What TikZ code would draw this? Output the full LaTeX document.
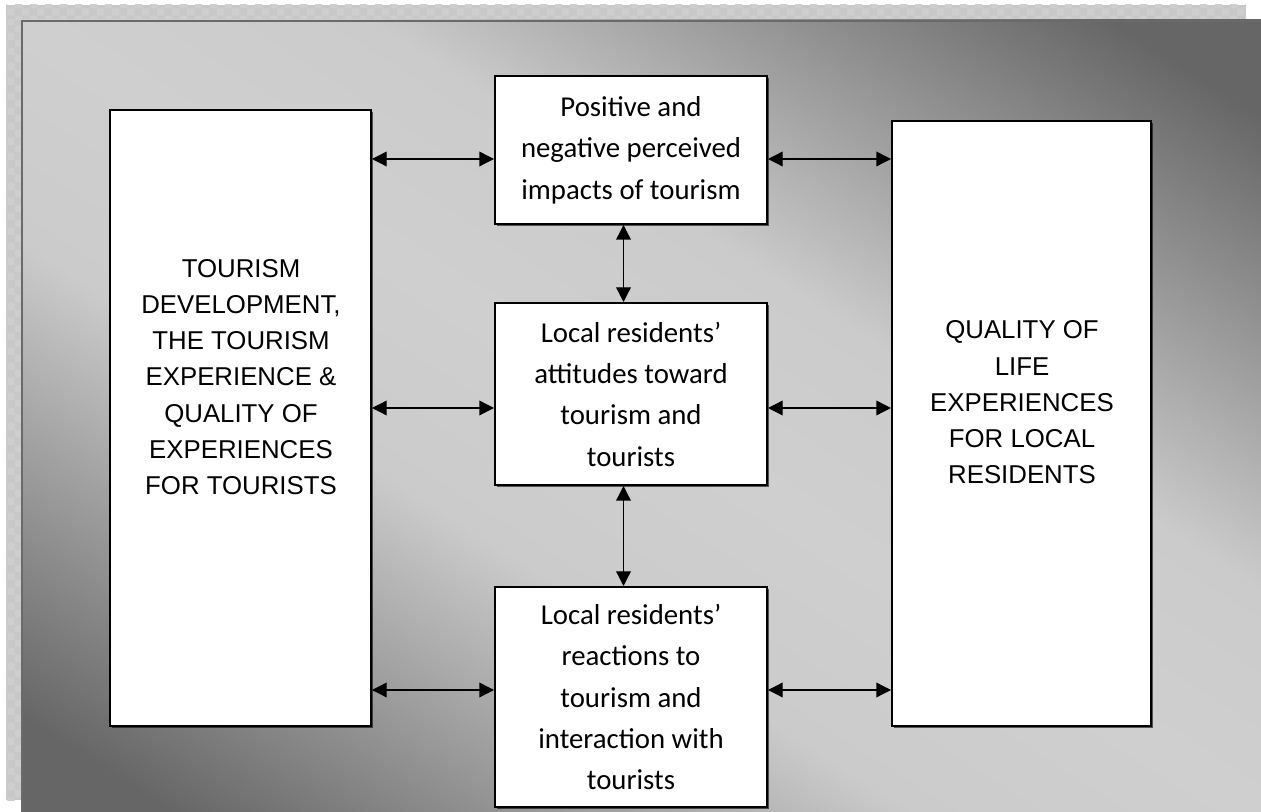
\documentclass[tikz,border=0pt]{standalone}
\usepackage{fontspec}
\setmainfont{Liberation Sans}
\newfontfamily\calibrifont{Carlito}
\usetikzlibrary{arrows.meta,patterns,shadows}
\definecolor{paneldark}{HTML}{666666}
\definecolor{panellight}{HTML}{CFCFCF}
\definecolor{panelmid}{HTML}{CBCBCB}
\definecolor{hatchbase}{HTML}{C8C8C8}
\definecolor{hatchdots}{HTML}{CECECE}
\definecolor{paneledge}{HTML}{6A6A6A}
% dark - light - dark band used for the backdrop
\pgfdeclareverticalshading{panelshade}{100bp}{color(0bp)=(paneldark); color(28bp)=(paneldark); color(43bp)=(panelmid); color(50bp)=(panellight); color(57bp)=(panelmid); color(72bp)=(paneldark); color(100bp)=(paneldark)}
\begin{document}
\begin{tikzpicture}[x=0.75pt,y=-0.75pt,
  box/.style={draw=black, line width=1.5pt, fill=white, inner sep=0pt,
    drop shadow={shadow xshift=1.2pt, shadow yshift=-1.2pt, opacity=0.6, fill=black}},
  capstext/.style={align=center, inner sep=0pt,
    font=\fontsize{19.35}{27.2}\selectfont},
  midbox/.style={box, minimum width=204pt, align=center,
    font=\calibrifont\fontsize{21.6}{31}\selectfont},
  biarrow/.style={line width=1pt,
    {Triangle[length=11pt,width=11pt]}-{Triangle[length=11pt,width=11pt]}}
]
\useasboundingbox (0,0) rectangle (1261,812);

% checkered frame behind the panel
\fill[hatchbase] (6,5) rectangle (1246,20);
\fill[hatchbase] (6,5) rectangle (21,800);
\fill[pattern=checkerboard, pattern color=hatchdots] (6,5) rectangle (1246,20);
\fill[pattern=checkerboard, pattern color=hatchdots] (6,20) rectangle (21,800);

% shaded panel
\begin{scope}
  \clip (21,20) rectangle (1261,812);
  \shade[shading=panelshade, shading angle=-32.57] (-27,-252) rectangle (1309,1084);
\end{scope}
\draw[paneledge, line width=1.5pt] (22,812) -- (22,21) -- (1261,21);

% side boxes
\node[box, minimum width=195.75pt, minimum height=462pt] (lbox) at (240.5,418) {};
\node[box, minimum width=194.25pt, minimum height=453.75pt] (rbox) at (1021.5,423.5) {};
\node[capstext] (ltext) at (241,377)
  {TOURISM\\DEVELOPMENT,\\THE TOURISM\\EXPERIENCE \&\\QUALITY OF\\EXPERIENCES\\FOR TOURISTS};
\node[capstext] (rtext) at (1022,402.5)
  {QUALITY OF\\LIFE\\EXPERIENCES\\FOR LOCAL\\RESIDENTS};

% centre column
\node[midbox, minimum height=111pt] (impacts) at (631,150)
  {Positive and\\negative perceived\\impacts of tourism};
\node[midbox, minimum height=136.5pt] (attitudes) at (631,394)
  {Local residents’\\attitudes toward\\tourism and\\tourists};
\node[midbox, minimum height=165pt] (reactions) at (631,697)
  {Local residents’\\reactions to\\tourism and\\interaction with\\tourists};

% connector rows and column
\coordinate (rowA) at (0,159);
\coordinate (rowB) at (0,408);
\coordinate (rowC) at (0,690);
\coordinate (colA) at (623.5,0);

\draw[biarrow] (lbox.east |- rowA) -- (impacts.west |- rowA);
\draw[biarrow] (lbox.east |- rowB) -- (attitudes.west |- rowB);
\draw[biarrow] (lbox.east |- rowC) -- (reactions.west |- rowC);
\draw[biarrow] (impacts.east |- rowA) -- (rbox.west |- rowA);
\draw[biarrow] (attitudes.east |- rowB) -- (rbox.west |- rowB);
\draw[biarrow] (reactions.east |- rowC) -- (rbox.west |- rowC);
\draw[biarrow] (impacts.south -| colA) -- (attitudes.north -| colA);
\draw[biarrow] (attitudes.south -| colA) -- (reactions.north -| colA);
\end{tikzpicture}
\end{document}
